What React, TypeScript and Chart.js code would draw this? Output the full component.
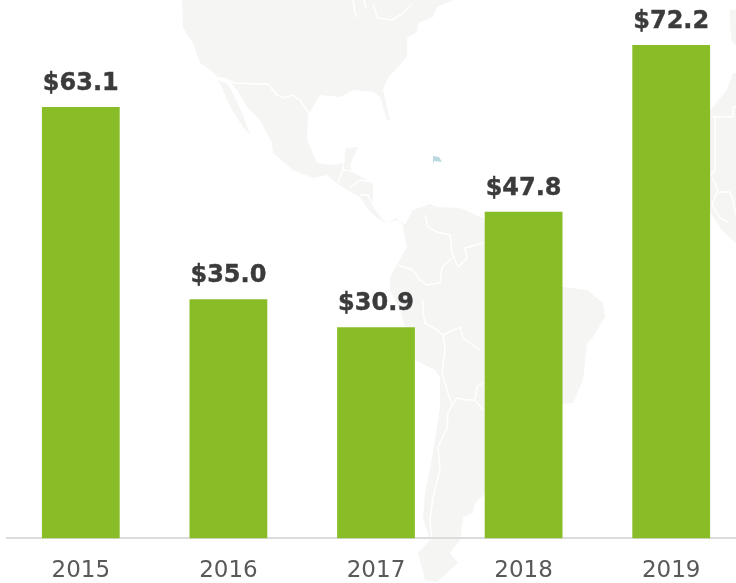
import React, { useEffect, useRef } from "react";
import { Chart, registerables } from "chart.js";

Chart.register(...registerables);

const years = ["2015", "2016", "2017", "2018", "2019"];
const revenue = [63.1, 35.0, 30.9, 47.8, 72.2];

const landPaths = [
  "M182,0 L183,28 L193,43 L200,63 L213,72 L218,78 L228,79 L237,90 L247,107 L260,120 L272,143 L273,153 L293,170 L313,178 L327,175 L335,182 L347,190 L360,197 L367,208 L377,218 L385,223 L397,220 L403,227 L407,247 L398,263 L390,277 L390,290 L400,310 L415,360 L435,370 L440,377 L440,407 L433,453 L425,493 L423,518 L430,540 L418,553 L425,580 L437,582 L458,563 L450,553 L460,540 L463,517 L473,513 L475,503 L500,480 L563,404 L573,403 L583,380 L587,343 L593,337 L605,317 L603,303 L587,290 L563,287 L520,250 L483,218 L460,208 L437,207 L430,204 L413,210 L405,225 L397,217 L385,222 L373,207 L373,183 L352,172 L350,165 L358,147 L345,148 L343,163 L333,165 L317,163 L307,140 L308,115 L320,95 L340,97 L353,90 L373,92 L380,97 L387,120 L390,120 L383,90 L388,78 L407,57 L407,38 L417,32 L418,23 L433,17 L437,7 L453,0 Z",
  "M218,80 L228,84 L243,115 L250,135 L243,127 L232,110 L222,88 Z",
  "M730,10 L736,10 L736,45 L732,42 L730,25 Z",
  "M736,73 L733,73 L727,90 L713,107 L710,110 L710,212 L722,230 L736,243 Z",
];
const borderPaths = [
  "M218,77 L228,80 L235,83 L258,84 L268,84 L277,95 L285,98 L292,95 L300,100 L308,112 L315,118",
  "M345,148 L343,170 L358,172 M338,182 L343,170 M350,188 L360,180 L372,182 M360,195 L368,195 L373,205 M385,223 L397,217 L403,227",
  "M425,215 L428,227 L437,232 L450,235 L452,253 L458,267 L467,258 L465,248 L483,243 M452,258 L442,267 L440,283 M398,265 L413,270 L420,280 L427,285 L440,283 M423,300 L423,313 L425,323 L437,330 L443,335 L460,327 L463,338 L480,350",
  "M443,335 L445,350 L442,373 L448,393 L452,405 L457,398 L467,400 L475,400 L477,387 L483,383 M475,400 L483,410",
  "M452,405 L448,413 L447,428 L438,447 L440,470 L433,497 L430,520 L432,540",
  "M711,117 L715,117 L715,170 L711,175 M715,117 L733,117 L733,107 L736,107 M712,178 L716,185 L718,192 L730,192 L733,200 L736,215 M718,190 L712,205 L720,218 L728,222",
  "M353,0 L355,14 L358,17 M364,0 L366,8 M373,5 L378,18 L392,20 L402,14 L412,4",
];

function App() {
  const ref = useRef<HTMLCanvasElement>(null);
  useEffect(() => {
    const labelPlugin = {
      id: "valueLabels",
      afterDatasetsDraw(chart: Chart) {
        const { ctx } = chart;
        const meta = chart.getDatasetMeta(0);
        ctx.save();
        ctx.font = "bold 24px 'DejaVu Sans'";
        ctx.fillStyle = "#3b3b3b";
        ctx.strokeStyle = "#3b3b3b";
        ctx.lineWidth = 0.4;
        ctx.textAlign = "center";
        ctx.textBaseline = "alphabetic";
        meta.data.forEach((bar: any, i: number) => {
          const text = "$" + revenue[i].toFixed(1);
          ctx.fillText(text, bar.x, bar.y - 17);
          ctx.strokeText(text, bar.x, bar.y - 17);
        });
        ctx.restore();
      },
    };
    const chart = new Chart(ref.current!, {
      type: "bar",
      data: {
        labels: years,
        datasets: [
          {
            data: revenue,
            backgroundColor: "#89bd28",
            barPercentage: 0.527,
            categoryPercentage: 1,
          },
        ],
      },
      options: {
        animation: false,
        responsive: false,
        layout: { padding: { left: 7, right: 0, top: 0, bottom: 0 } },
        plugins: { legend: { display: false }, tooltip: { enabled: false } },
        scales: {
          x: {
            grid: { display: false, drawTicks: false },
            border: { color: "#dcdcdc", width: 2 },
            ticks: {
              color: "#595959",
              font: { family: "'DejaVu Sans'", size: 23 },
              padding: 19,
              maxRotation: 0,
            },
          },
          y: {
            display: false,
            min: 0,
            max: 78.77,
          },
        },
      },
      plugins: [labelPlugin],
    });
    return () => chart.destroy();
  }, []);

  return (
    <div style={{ position: "fixed", left: 0, top: 0, width: 736, height: 583, overflow: "hidden", background: "#fff" }}>
      <svg width={736} height={583} style={{ position: "absolute", left: 0, top: 0 }}>
        {landPaths.map((d, i) => (
          <path key={i} d={d} fill="#f5f5f4" />
        ))}
        {borderPaths.map((d, i) => (
          <path key={i} d={d} fill="none" stroke="#fff" strokeWidth={1.5} />
        ))}
        <path d="M433,156 L439,157 L442,162 L434,161 L433,165 Z" fill="#b9d9de" />
      </svg>
      <canvas ref={ref} width={745} height={604} style={{ position: "absolute", left: 0, top: 0, display: "block" }} />
    </div>
  );
}

export default App;
